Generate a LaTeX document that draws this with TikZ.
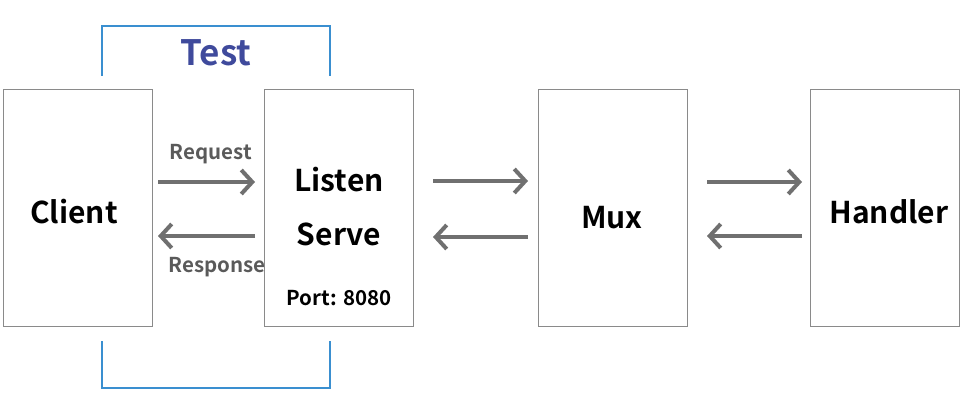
\documentclass[tikz,border=0pt]{standalone}
\usepackage{fontspec}
\setmainfont{Noto Sans CJK KR}[BoldFont={* Bold}]
\usetikzlibrary{arrows.meta}
\definecolor{boxgray}{HTML}{8A8A8A}
\definecolor{arrgray}{HTML}{707070}
\definecolor{labgray}{HTML}{5A5A5A}
\definecolor{brk}{HTML}{3A8FD0}
\definecolor{testblue}{HTML}{3F4A9C}
\tikzset{
  x=1pt,y=-1pt,
  blk/.style={draw=boxgray, line width=1.2pt, minimum width=149pt, minimum height=237pt, inner sep=0pt, anchor=north west},
  conn/.style={draw=arrgray, line width=4pt, -{Straight Barb[length=11pt,width=24pt,line width=4pt]}},
  big/.style={font=\bfseries\fontsize{30}{32}\selectfont},
  small/.style={font=\bfseries\fontsize{20.5}{22}\selectfont},
  bracket/.style={draw=brk, line width=2pt},
}
\begin{document}
\begin{tikzpicture}
\useasboundingbox (0,0) rectangle (969,403);
\node[blk] (client) at (3,89) {};
\node[blk] (listen) at (264,89) {};
\node[blk] (mux) at (538,89) {};
\node[blk] (handler) at (810,89) {};
\node[big] (tclient) at (74,212) {Client};
\node[big] (tlisten) at (339,180) {Listen};
\node[big] (tserve) at (339,234) {Serve};
\node[small, text=black] (tport) at (339,298) {Port: 8080};
\node[big] (tmux) at (612,218) {Mux};
\node[big] (thandler) at (889,212) {Handler};
\node[small, text=labgray] (treq) at (211,154) {Request};
\node[small, text=labgray] (tresp) at (217,267) {Response};
\node[font=\bfseries\fontsize{35}{38}\selectfont, text=testblue] (ttest) at (216,53) {Test};
% connectors
\coordinate (a1) at (158,182); \coordinate (a2) at (255,182);
\coordinate (b1) at (255,236); \coordinate (b2) at (158,236);
\draw[conn] (a1) -- (a2);
\draw[conn] (b1) -- (b2);
\coordinate (c1) at (433,181); \coordinate (c2) at (528,181);
\coordinate (d1) at (528,237); \coordinate (d2) at (433,237);
\draw[conn] (c1) -- (c2);
\draw[conn] (d1) -- (d2);
\coordinate (e1) at (707,182); \coordinate (e2) at (802,182);
\coordinate (f1) at (802,236); \coordinate (f2) at (707,236);
\draw[conn] (e1) -- (e2);
\draw[conn] (f1) -- (f2);
% brackets
\draw[bracket] (102,76) -- (102,26) -- (330,26) -- (330,76);
\draw[bracket] (102,341) -- (102,388) -- (330,388) -- (330,341);
\end{tikzpicture}
\end{document}
